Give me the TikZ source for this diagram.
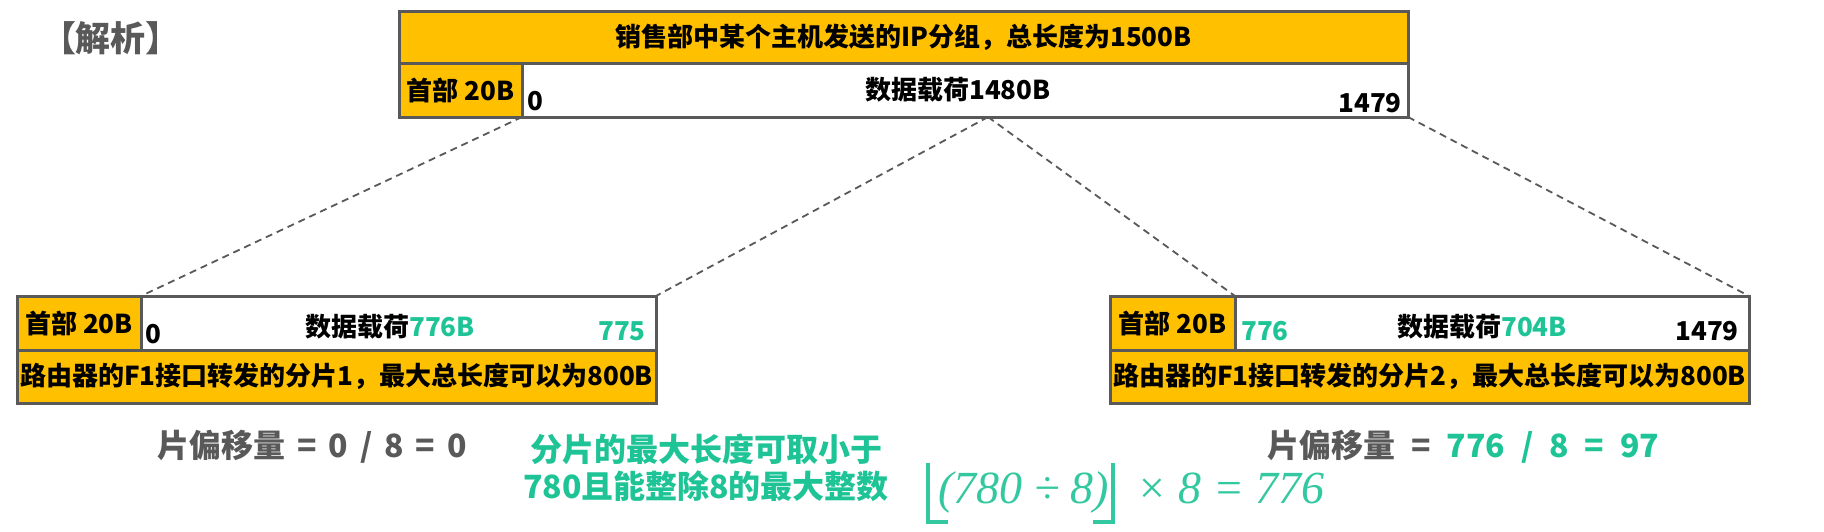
\documentclass[tikz,border=0pt]{standalone}
\usepackage{fontspec}
\setmainfont{Noto Sans CJK SC}
\newfontfamily\serifit{Liberation Serif}
\usetikzlibrary{calc}
\definecolor{ora}{HTML}{FFC000}
\definecolor{gry}{HTML}{595959}
\definecolor{grn}{RGB}{30,196,150}
\definecolor{grn2}{RGB}{52,200,160}
\newcommand{\gsa}{\hspace{12pt}}
\newcommand{\gsb}{\hspace{16pt}}
\begin{document}
\begin{tikzpicture}[x=1pt,y=-1pt,
  cell/.style={draw=gry, line width=3pt, inner sep=0pt, outer sep=0pt, anchor=north west},
  ocell/.style={cell, fill=ora},
  wcell/.style={cell, fill=white},
  bt/.style={font=\fontsize{26}{30}\selectfont\bfseries, inner sep=0pt},
  gt/.style={font=\fontsize{32}{36}\selectfont\bfseries, inner sep=0pt, text=gry},
  gn/.style={font=\fontsize{32}{37}\selectfont\bfseries, inner sep=0pt, text=grn, align=center},
  fm/.style={font=\fontsize{46}{50}\selectfont\serifit\itshape, inner sep=0pt, text=grn2},
  floorline/.style={draw=grn2, line width=4pt},
  dashline/.style={draw=gry, line width=1.8pt, dash pattern=on 7pt off 5pt}]
\fill[white] (0,0) rectangle (1824,531);
\useasboundingbox (0,0) rectangle (1824,531);

\node[gt, font=\fontsize{35}{40}\selectfont\bfseries] (jx) at (111,38) {【解析】};

% top packet
\node[ocell, minimum width=1009pt, minimum height=52pt, bt] (title) at (399,11) {销售部中某个主机发送的IP分组，总长度为1500B};
\node[ocell, minimum width=123pt, minimum height=54pt, bt] (thdr) at (399,63) {首部 20B};
\node[wcell, minimum width=886pt, minimum height=54pt] (tpay) at (522,63) {};
\node[bt] (tpl) at (958,90) {数据载荷1480B};
\node[bt, anchor=base west] (t0) at (527,110) {0};
\node[bt, anchor=base east] (t1479) at (1402,112) {1479};

% left fragment
\node[ocell, minimum width=124pt, minimum height=54pt, bt] (lhdr) at (17,296) {首部 20B};
\node[wcell, minimum width=515pt, minimum height=54pt] (lpay) at (141,296) {};
\node[ocell, minimum width=639pt, minimum height=53pt, bt] (lfoot) at (17,350) {路由器的F1接口转发的分片1，最大总长度可以为800B};
\node[bt] (lpl) at (390,327) {数据载荷\textcolor{grn}{776B}};
\node[bt, anchor=base west] (l0) at (145,343) {0};
\node[bt, anchor=base east, text=grn] (l775) at (646,340) {775};

% right fragment
\node[ocell, minimum width=125pt, minimum height=54pt, bt] (rhdr) at (1110,296) {首部 20B};
\node[wcell, minimum width=514pt, minimum height=54pt] (rpay) at (1235,296) {};
\node[ocell, minimum width=639pt, minimum height=53pt, bt] (rfoot) at (1110,350) {路由器的F1接口转发的分片2，最大总长度可以为800B};
\node[bt, anchor=base west, text=grn] (r776) at (1241,340) {776};
\node[bt] (rpl) at (1482,327) {数据载荷\textcolor{grn}{704B}};
\node[bt, anchor=base east] (r1479) at (1739,340) {1479};

% dashed connectors
\coordinate (apex) at ($(tpay.south west)!0.526!(tpay.south east)$);
\draw[dashline] (thdr.south east) -- (lhdr.north east);
\draw[dashline] (apex) -- (lpay.north east);
\draw[dashline] (apex) -- (rhdr.north east);
\draw[dashline] (tpay.south east) -- (rpay.north east);

% offsets
\node[gt, anchor=base west] (off1) at (157,457) {片偏移量\gsa=\gsa0\gsa/\gsa8\gsa=\gsa0};
\node[gt, anchor=base west] (off2) at (1267,457) {片偏移量\gsb=\gsb\textcolor{grn}{776\gsb/\gsb8\gsb=\gsb97}};

% note
\node[gn] (note) at (706,468) {分片的最大长度可取小于\\780且能整除8的最大整数};

% formula
\node[fm, anchor=base west] (fx) at (938,503) {(780 ÷ 8)};
\node[fm, anchor=base west] (fy) at (1136,503) {× 8 = 776};
\draw[floorline] ($(fx.north west)+(-10,-8)$) -- ($(fx.south west)+(-10,9)$) -- ($(fx.south west)+(10,9)$);
\draw[floorline] ($(fx.north east)+(4,-8)$) -- ($(fx.south east)+(4,9)$) -- ($(fx.south east)+(-16,9)$);
\end{tikzpicture}
\end{document}
